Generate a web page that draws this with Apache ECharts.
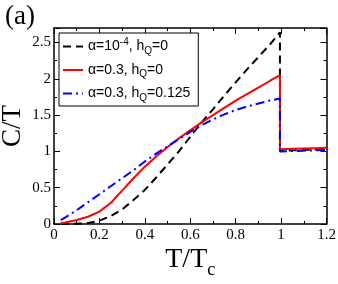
<!DOCTYPE html>
<html>
<head>
<meta charset="utf-8">
<script src="https://cdn.jsdelivr.net/npm/echarts@6/dist/echarts.min.js"></script>
<style>html,body{margin:0;padding:0;background:#fff;}#c{width:338px;height:284px;}</style>
</head>
<body>
<div id="c"></div>
<script>
// T/Tc grid (0.995 appears twice: the jump at Tc)
const T = [0.03,0.05,0.1,0.15,0.2,0.25,0.3,0.35,0.4,0.45,0.5,0.55,0.6,0.65,0.7,0.75,0.8,0.85,0.9,0.95,0.995,0.995,1.05,1.1,1.15,1.2];
const blackCT = [0.0,0.0,0.003,0.015,0.045,0.11,0.2,0.33,0.47,0.64,0.82,1.0,1.2,1.4,1.58,1.77,1.95,2.13,2.3,2.47,2.64,1.01,1.015,1.02,1.025,1.03];
const redCT   = [0.01,0.02,0.055,0.1,0.17,0.29,0.46,0.63,0.79,0.93,1.06,1.18,1.29,1.4,1.5,1.6,1.7,1.79,1.88,1.97,2.05,1.03,1.035,1.04,1.045,1.05];
const blueCT  = [0.055,0.09,0.19,0.3,0.41,0.52,0.63,0.74,0.86,0.97,1.07,1.17,1.27,1.36,1.44,1.51,1.57,1.62,1.66,1.70,1.73,1.0,1.005,1.01,1.015,1.02];
const seriesNames = ['α=10{sup|-4}, h{sub|Q}=0', 'α=0.3, h{sub|Q}=0', 'α=0.3, h{sub|Q}=0.125'];
const xTicks = {min:0, max:1.2, interval:0.2};
const yTicks = {min:0, max:2.7, interval:0.5};

const pairs = ys => T.map((t,i)=>[t, ys[i]]);
const serif = '"Liberation Serif","DejaVu Serif",serif';
const sans = '"Liberation Sans",Arial,sans-serif';

function axisBase(pos, showLabels){
  return {
    type:'value', position:pos,
    axisLine:{show:true, onZero:false, lineStyle:{color:'#000', width:1.5}},
    axisTick:{show:true, inside:true, length:6, lineStyle:{color:'#000', width:1}},
    minorTick:{show:true, splitNumber:2, length:3, lineStyle:{color:'#000', width:1}},
    splitLine:{show:false},
    nameMoveOverlap:false,
    axisLabel:{show:showLabels, color:'#000', fontFamily:serif, fontSize:15, showMaxLabel:(pos==='bottom')}
  };
}
const xb = Object.assign(axisBase('bottom', true), xTicks, {
  name:'T/T{s|c}', nameLocation:'middle', nameGap:17,
  nameTextStyle:{color:'#000', fontFamily:serif, fontSize:28, verticalAlign:'top',
    rich:{s:{fontSize:18, fontFamily:serif, color:'#000', padding:[20,0,0,0]}}}
});
xb.axisLabel.margin = 4;
const xt = Object.assign(axisBase('top', false), xTicks);
const yl = Object.assign(axisBase('left', true), yTicks, {
  name:'C/T', nameLocation:'middle', nameGap:28, nameRotate:90,
  nameTextStyle:{color:'#000', fontFamily:serif, fontSize:27}
});
yl.axisLabel.margin = 3;
const yr = Object.assign(axisBase('right', false), yTicks);

const option = {
  animation:false,
  backgroundColor:'#fff',
  textStyle:{fontFamily:serif},
  title:{text:'(a)', left:0, top:-2, textStyle:{fontFamily:serif, fontSize:27, fontWeight:'normal', color:'#000'}},
  grid:{left:54, right:11.5, top:28, bottom:60, containLabel:false, outerBoundsMode:'none'},
  legend:{
    orient:'vertical', left:59, top:33,
    backgroundColor:'#fff', borderColor:'#000', borderWidth:1, borderRadius:0,
    padding:[4,8,3,3], itemGap:7, itemWidth:20, itemHeight:14,
    itemStyle:{opacity:0, borderWidth:0},
    textStyle:{fontFamily:sans, fontSize:14, color:'#000',
      rich:{sup:{fontSize:10, fontFamily:sans, color:'#000', padding:[0,0,9,0]},
            sub:{fontSize:10, fontFamily:sans, color:'#000', padding:[9,0,0,0]}}},
    data:seriesNames
  },
  xAxis:[xb, xt],
  yAxis:[yl, yr],
  series:[
    {name:seriesNames[0], type:'line', data:pairs(blackCT), symbol:'none', smooth:false,
      lineStyle:{color:'#000', width:2, type:[8,5]}, itemStyle:{color:'#000'}},
    {name:seriesNames[1], type:'line', data:pairs(redCT), symbol:'none', smooth:false,
      lineStyle:{color:'#ff0000', width:2, type:'solid'}, itemStyle:{color:'#ff0000'}},
    {name:seriesNames[2], type:'line', data:pairs(blueCT), symbol:'none', smooth:false,
      lineStyle:{color:'#0000ff', width:2, type:[9,4,2,4]}, itemStyle:{color:'#0000ff'}}
  ]
};
const chart = echarts.init(document.getElementById('c'), null, {renderer:'canvas'});
chart.setOption(option);
</script>
</body>
</html>
